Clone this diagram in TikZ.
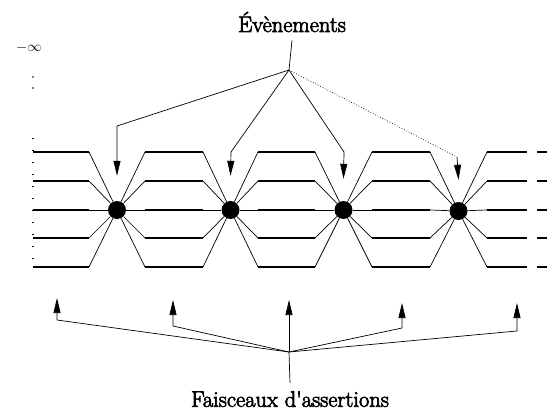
\documentclass[tikz,border=0pt]{standalone}
\usepackage{fontspec}
\newfontfamily\inkfont{Latin Modern Roman}[FakeBold=3]
\usetikzlibrary{arrows.meta,calc}
\begin{document}
\begin{tikzpicture}[x=1pt,y=-1pt,
  bundle/.style={line width=2pt},
  link/.style={line width=0.7pt},
  pointer/.style={line width=0.7pt,-{Triangle[length=15pt,width=7pt]}},
  event/.style={circle,fill=black,inner sep=0pt,minimum size=18pt},
  caption/.style={font=\inkfont\fontsize{22.5}{26}\selectfont,inner sep=0pt}]
\useasboundingbox (0,0) rectangle (557,412);

% time axis towards minus infinity
\node[font=\fontsize{15}{18}\selectfont] (inf) at (29,48) {$-\infty$};
\fill (33,77) circle (0.9) (33,88) circle (0.9);
\draw[line width=1.2pt,dash pattern=on 1pt off 11pt] (33,138) -- (33,270);

% bundles of assertions (five levels each)
\foreach \a/\b in {33/89,145/203,258/315,372/430}
  \foreach \y in {152,181,210,238,267}
    \draw[bundle] (\a,\y) -- (\b,\y);
\foreach \y in {152,181,210,238,267}{
  \draw[line width=1.2pt] (487,\y) -- (527,\y);
  \draw[line width=1.2pt] (537,\y) -- (547,\y);
}

% events
\node[event] (e1) at (117,210) {};
\node[event] (e2) at (230.5,210) {};
\node[event] (e3) at (343.5,210) {};
\node[event] (e4) at (458.5,211) {};

% crossings at each event
\foreach \e/\a/\c in {e1/89/145,e2/203/258,e3/315/372,e4/430/487}{
  \draw[link] (\a,152) -- (\e) -- (\c,267);
  \draw[link] (\a,267) -- (\e) -- (\c,152);
  \draw[link] (\a,181) -- (\e) -- (\c,181);
  \draw[link] (\a,238) -- (\e) -- (\c,238);
  \draw[link] (\a,210) -- (\e) -- (\c,210);
}

% events label and pointers
\node[caption] (ev) at (292,22) {Évènements};
\coordinate (top) at (289,70);
\draw[link] ([yshift=-8pt]ev.south) -- (top);
\coordinate (k1) at (117,126);
\coordinate (k2) at (231,152);
\coordinate (k3) at (344,152);
\coordinate (k4) at (457,157);
\draw[pointer] (top) -- (k1) -- ([yshift=25pt]e1.north);
\draw[pointer] (top) -- (k2) -- ([yshift=25pt]e2.north);
\draw[pointer] (top) -- (k3) -- ([yshift=22pt]e3.north);
\draw[link,dotted] (top) -- (k4);
\draw[pointer] (k4) -- ([yshift=22pt]e4.north);

% bundles label and pointers
\node[caption] (fa) at (290,399) {Faisceaux d'assertions};
\coordinate (bot) at (289,352);
\draw[link] ([yshift=8pt]fa.north) -- (bot);
\coordinate (s1) at (57,320);
\coordinate (s2) at (173,326);
\coordinate (s4) at (402,328);
\coordinate (s5) at (517,331);
\draw[pointer] (bot) -- (s1) -- ++(0,-22);
\draw[pointer] (bot) -- (s2) -- ++(0,-26);
\draw[pointer] (bot) -- ++(0,-52);
\draw[pointer] (bot) -- (s4) -- ++(0,-25);
\draw[pointer] (bot) -- (s5) -- ++(0,-28);
\end{tikzpicture}
\end{document}
